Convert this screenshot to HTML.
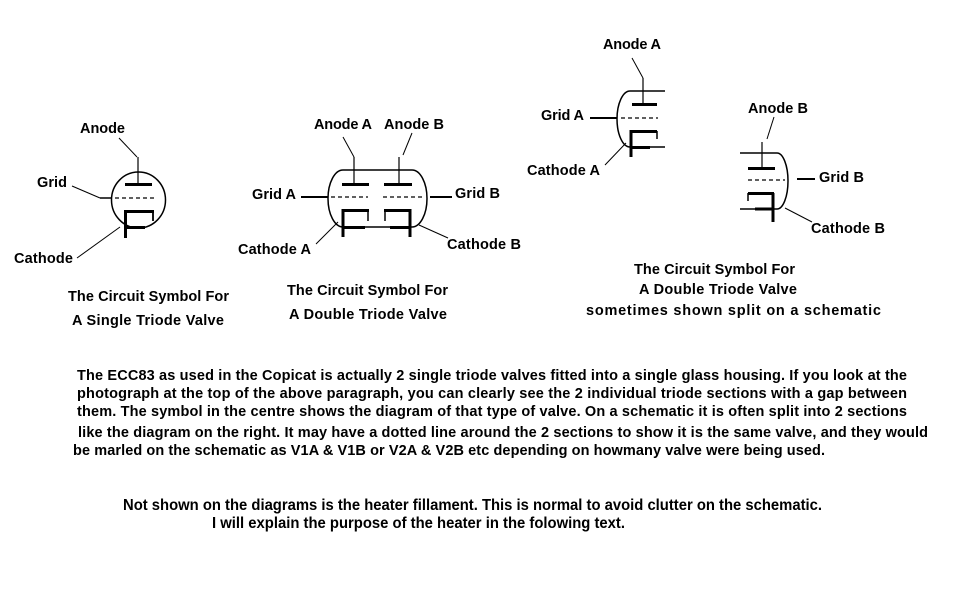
<!DOCTYPE html>
<html>
<head>
<meta charset="utf-8">
<style>
  html, body { margin:0; padding:0; background:#fff; }
  svg { display:block; }
  text { font-family: "Liberation Sans", Arial, sans-serif; font-weight:bold; font-size:14.5px; fill:#000; }
  .b { font-size:15.5px; }
</style>
</head>
<body>
<svg width="953" height="605" viewBox="0 0 953 605" xmlns="http://www.w3.org/2000/svg">
  <rect x="0" y="0" width="953" height="605" fill="#fff"/>

  <g stroke="#000" fill="none" stroke-linecap="butt">
    <!-- ===== Single triode ===== -->
    <ellipse cx="138.5" cy="200" rx="27" ry="28" stroke-width="1.5"/>
    <line x1="138" y1="157" x2="138" y2="184" stroke-width="1.2"/>
    <line x1="125" y1="184.5" x2="152" y2="184.5" stroke-width="3"/>
    <line x1="100" y1="198" x2="112" y2="198" stroke-width="1.5"/>
    <line x1="115" y1="198" x2="154" y2="198" stroke-width="1.2" stroke-dasharray="4,3"/>
    <line x1="125.5" y1="210" x2="125.5" y2="238" stroke-width="3"/>
    <line x1="124" y1="211.5" x2="154" y2="211.5" stroke-width="3"/>
    <line x1="153" y1="210" x2="153" y2="221" stroke-width="1.8"/>
    <line x1="124" y1="227.5" x2="145" y2="227.5" stroke-width="3"/>
    <!-- leaders -->
    <line x1="119" y1="138" x2="137" y2="157" stroke-width="1"/>
    <line x1="72" y1="186" x2="100" y2="198" stroke-width="1"/>
    <line x1="77" y1="258" x2="120" y2="227" stroke-width="1"/>

    <!-- ===== Double triode ===== -->
    <path d="M343,170 H412 A15,28.5 0 0 1 412,227 H343 A15,28.5 0 0 1 343,170 Z" stroke-width="1.5"/>
    <line x1="354" y1="157" x2="354" y2="184" stroke-width="1.2"/>
    <line x1="342" y1="184.5" x2="369" y2="184.5" stroke-width="3"/>
    <line x1="399" y1="157" x2="399" y2="184" stroke-width="1.2"/>
    <line x1="384" y1="184.5" x2="412" y2="184.5" stroke-width="3"/>
    <line x1="301" y1="197" x2="328" y2="197" stroke-width="2"/>
    <line x1="331" y1="197" x2="368" y2="197" stroke-width="1.2" stroke-dasharray="4,3"/>
    <line x1="383" y1="197" x2="424" y2="197" stroke-width="1.2" stroke-dasharray="4,3"/>
    <line x1="430" y1="197" x2="452" y2="197" stroke-width="2"/>
    <!-- cathode A -->
    <line x1="343" y1="209" x2="343" y2="237" stroke-width="3"/>
    <line x1="342" y1="210.5" x2="369" y2="210.5" stroke-width="3"/>
    <line x1="368" y1="210" x2="368" y2="221" stroke-width="1.5"/>
    <line x1="343" y1="227.5" x2="365" y2="227.5" stroke-width="3"/>
    <!-- cathode B -->
    <line x1="410" y1="209" x2="410" y2="237" stroke-width="3"/>
    <line x1="384" y1="210.5" x2="411" y2="210.5" stroke-width="3"/>
    <line x1="385" y1="210" x2="385" y2="221" stroke-width="1.5"/>
    <line x1="390" y1="227.5" x2="411" y2="227.5" stroke-width="3"/>
    <!-- leaders -->
    <line x1="343" y1="137" x2="354" y2="157" stroke-width="1"/>
    <line x1="412" y1="133" x2="403" y2="155" stroke-width="1"/>
    <line x1="316" y1="244" x2="338" y2="222" stroke-width="1"/>
    <line x1="419" y1="225" x2="448" y2="238" stroke-width="1"/>

    <!-- ===== Split triode A ===== -->
    <path d="M665,91 H630 A13,28 0 0 0 630,147 H665" stroke-width="1.5"/>
    <line x1="643" y1="78" x2="643" y2="104" stroke-width="1.2"/>
    <line x1="632" y1="104.5" x2="657" y2="104.5" stroke-width="3"/>
    <line x1="590" y1="118" x2="617" y2="118" stroke-width="2"/>
    <line x1="621" y1="118" x2="658" y2="118" stroke-width="1.2" stroke-dasharray="4,3"/>
    <line x1="631" y1="130" x2="631" y2="157" stroke-width="3"/>
    <line x1="630" y1="131.5" x2="657" y2="131.5" stroke-width="3"/>
    <line x1="657" y1="131" x2="657" y2="139" stroke-width="1.5"/>
    <line x1="631" y1="147.5" x2="650" y2="147.5" stroke-width="3"/>
    <line x1="632" y1="58" x2="643" y2="78" stroke-width="1"/>
    <line x1="605" y1="165" x2="626" y2="143" stroke-width="1"/>

    <!-- ===== Split triode B ===== -->
    <path d="M740,153 H777 A11,28 0 0 1 777,209 H740" stroke-width="1.5"/>
    <line x1="762" y1="142" x2="762" y2="168" stroke-width="1.2"/>
    <line x1="748" y1="168.5" x2="775" y2="168.5" stroke-width="3"/>
    <line x1="748" y1="180" x2="785" y2="180" stroke-width="1.2" stroke-dasharray="4,3"/>
    <line x1="797" y1="179" x2="815" y2="179" stroke-width="2"/>
    <line x1="773" y1="193" x2="773" y2="222" stroke-width="3"/>
    <line x1="748" y1="193.5" x2="774" y2="193.5" stroke-width="3"/>
    <line x1="748" y1="193" x2="748" y2="201" stroke-width="1.5"/>
    <line x1="755" y1="209" x2="774" y2="209" stroke-width="3"/>
    <line x1="774" y1="117" x2="767" y2="139" stroke-width="1"/>
    <line x1="785" y1="208" x2="812" y2="222" stroke-width="1"/>
  </g>

  <!-- ===== Labels ===== -->
  <text x="80" y="133" textLength="45" lengthAdjust="spacing">Anode</text>
  <text x="37" y="187" textLength="30" lengthAdjust="spacing">Grid</text>
  <text x="14" y="263" textLength="59" lengthAdjust="spacing">Cathode</text>
  <text x="68" y="301" textLength="161" lengthAdjust="spacing">The Circuit Symbol For</text>
  <text x="72" y="325" textLength="152" lengthAdjust="spacing">A Single Triode Valve</text>

  <text x="314" y="129" textLength="58" lengthAdjust="spacing">Anode A</text>
  <text x="384" y="129" textLength="60" lengthAdjust="spacing">Anode B</text>
  <text x="252" y="199" textLength="44" lengthAdjust="spacing">Grid A</text>
  <text x="455" y="198" textLength="45" lengthAdjust="spacing">Grid B</text>
  <text x="238" y="254" textLength="73" lengthAdjust="spacing">Cathode A</text>
  <text x="447" y="249" textLength="74" lengthAdjust="spacing">Cathode B</text>
  <text x="287" y="295" textLength="161" lengthAdjust="spacing">The Circuit Symbol For</text>
  <text x="289" y="319" textLength="158" lengthAdjust="spacing">A Double Triode Valve</text>

  <text x="603" y="49" textLength="58" lengthAdjust="spacing">Anode A</text>
  <text x="541" y="120" textLength="43" lengthAdjust="spacing">Grid A</text>
  <text x="527" y="175" textLength="73" lengthAdjust="spacing">Cathode A</text>
  <text x="748" y="113" textLength="60" lengthAdjust="spacing">Anode B</text>
  <text x="819" y="182" textLength="45" lengthAdjust="spacing">Grid B</text>
  <text x="811" y="233" textLength="74" lengthAdjust="spacing">Cathode B</text>
  <text x="634" y="274" textLength="161" lengthAdjust="spacing">The Circuit Symbol For</text>
  <text x="639" y="294" textLength="158" lengthAdjust="spacing">A Double Triode Valve</text>
  <text x="586" y="315" textLength="295" lengthAdjust="spacing">sometimes shown split on a schematic</text>

  <!-- ===== Paragraph ===== -->
  <text x="77" y="380" textLength="830" lengthAdjust="spacing">The ECC83 as used in the Copicat is actually 2 single triode valves fitted into a single glass housing.  If you look at the</text>
  <text x="77" y="398" textLength="830" lengthAdjust="spacing">photograph  at the top of the above paragraph, you can clearly see the 2 individual triode sections with a gap between</text>
  <text x="77" y="416" textLength="830" lengthAdjust="spacing">them.  The symbol in the centre shows the diagram of that type of valve.  On a schematic it is often split into 2 sections</text>
  <text x="78" y="437" textLength="850" lengthAdjust="spacing">like the diagram on the right.  It may have a dotted line around the 2 sections to show it is the same valve, and they would</text>
  <text x="73" y="455" textLength="752" lengthAdjust="spacing">be marled on the schematic as V1A &amp; V1B or V2A &amp; V2B etc depending on howmany valve were being used.</text>

  <text class="b" x="123" y="510" textLength="699" lengthAdjust="spacingAndGlyphs">Not shown on the diagrams is the heater fillament.  This is normal to avoid clutter on the schematic.</text>
  <text class="b" x="212" y="528" textLength="413" lengthAdjust="spacingAndGlyphs">I will explain the purpose of the heater in the folowing text.</text>
</svg>
</body>
</html>
